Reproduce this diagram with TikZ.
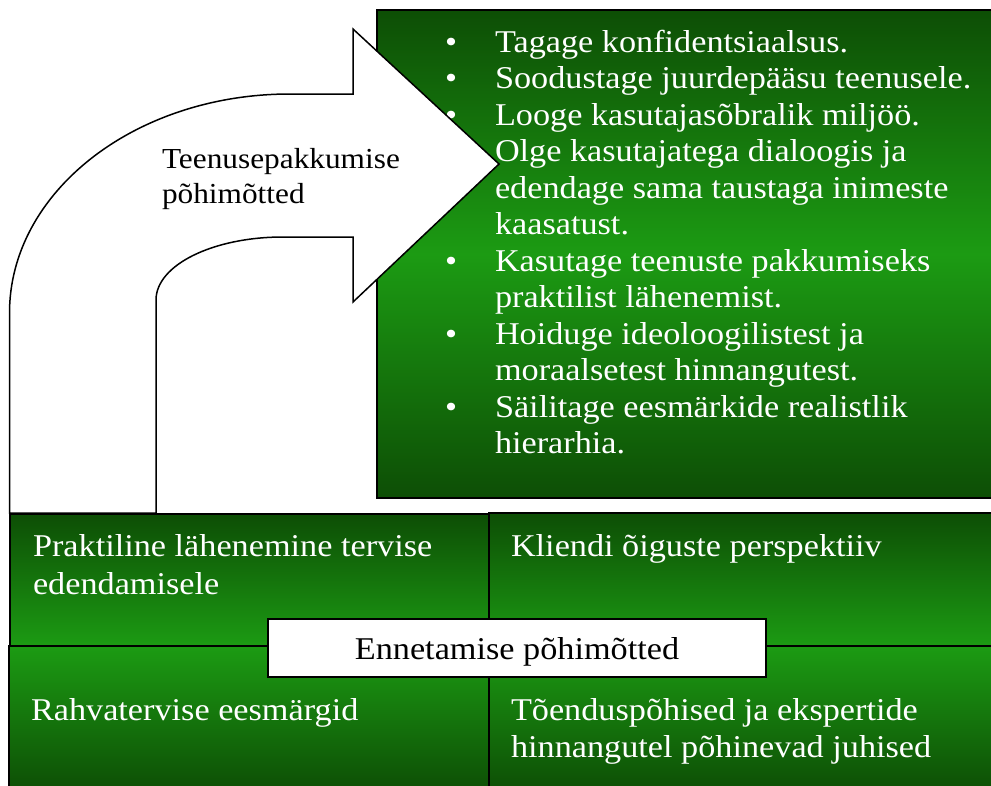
\documentclass[tikz,border=0pt]{standalone}
\usepackage{fontspec}
\setmainfont{Liberation Serif}
\newfontfamily\cf[FakeStretch=1.08]{Liberation Serif}
\definecolor{gdark}{RGB}{13,78,5}
\definecolor{gbright}{RGB}{28,155,19}
\begin{document}
\begin{tikzpicture}[x=1pt,y=-1pt,
  wt/.style={font=\cf\fontsize{31.7}{36.5}\selectfont, text=white, anchor=base west, inner sep=0pt, outer sep=0pt},
  bullet/.style={wt, anchor=base},
  bt/.style={font=\cf\fontsize{31.7}{36.5}\selectfont, text=black, anchor=base west, inner sep=0pt, outer sep=0pt},
  arrowtext/.style={bt, font=\cf\fontsize{29}{35}\selectfont},
  box/.style={draw=black, line width=2pt},
  downshade/.style={top color=gdark, bottom color=gbright},
  upshade/.style={top color=gbright, bottom color=gdark},
  midshade/.style={top color=gdark, bottom color=gdark, middle color=gbright},
]
\useasboundingbox (0,0) rectangle (991,785);
\clip (0,0) rectangle (991,785);
% principles box
\path[box, midshade] (377,10) rectangle (996,498);
\node[bullet] (u1) at (451,52) {•};
\node[bullet] (u2) at (451,88) {•};
\node[bullet] (u3) at (451,125) {•};
\node[bullet] (u4) at (451,161) {•};
\node[bullet] (u5) at (451,271) {•};
\node[bullet] (u6) at (451,344) {•};
\node[bullet] (u7) at (451,417) {•};
\node[wt] (l1) at (495,52) {Tagage konfidentsiaalsus.};
\node[wt] (l2) at (495,88) {Soodustage juurdepääsu teenusele.};
\node[wt] (l3) at (495,125) {Looge kasutajasõbralik miljöö.};
\node[wt] (l4) at (495,161) {Olge kasutajatega dialoogis ja};
\node[wt] (l5) at (495,198) {edendage sama taustaga inimeste};
\node[wt] (l6) at (495,234) {kaasatust.};
\node[wt] (l7) at (495,271) {Kasutage teenuste pakkumiseks};
\node[wt] (l8) at (495,307) {praktilist lähenemist.};
\node[wt] (l9) at (495,344) {Hoiduge ideoloogilistest ja};
\node[wt] (l10) at (495,380) {moraalsetest hinnangutest.};
\node[wt] (l11) at (495,417) {Säilitage eesmärkide realistlik};
\node[wt] (l12) at (495,453) {hierarhia.};
% bent arrow
\draw[line width=1.5pt, fill=white, line join=miter]
  (9.5,513) -- (9.5,313) .. controls (9.5,192) and (135,94) .. (290,94)
  -- (353,94) -- (353,29) -- (499,164) -- (353,302) -- (353,237) -- (283,237)
  .. controls (213,237) and (156,265) .. (156,300) -- (156,513) -- cycle;
\node[arrowtext] (a1) at (162,168) {Teenusepakkumise};
\node[arrowtext] (a2) at (162,203) {põhimõtted};
% quadrants
\path[box, downshade] (10,514) rectangle (489,646);
\path[box, downshade] (489,513) rectangle (996,646);
\path[box, upshade] (9,646) rectangle (489,792);
\path[box, upshade] (489,646) rectangle (996,792);
\node[wt] (q1a) at (33,556) {Praktiline lähenemine tervise};
\node[wt] (q1b) at (33,594) {edendamisele};
\node[wt] (q2) at (511,556) {Kliendi õiguste perspektiiv};
\node[wt] (q3) at (31,720) {Rahvatervise eesmärgid};
\node[wt] (q4a) at (511,720) {Tõenduspõhised ja ekspertide};
\node[wt] (q4b) at (511,757) {hinnangutel põhinevad juhised};
% centre label
\path[box, fill=white] (268,619) rectangle (766,677);
\node[bt, anchor=base] (ctr) at (517,659) {Ennetamise põhimõtted};
\end{tikzpicture}
\end{document}
